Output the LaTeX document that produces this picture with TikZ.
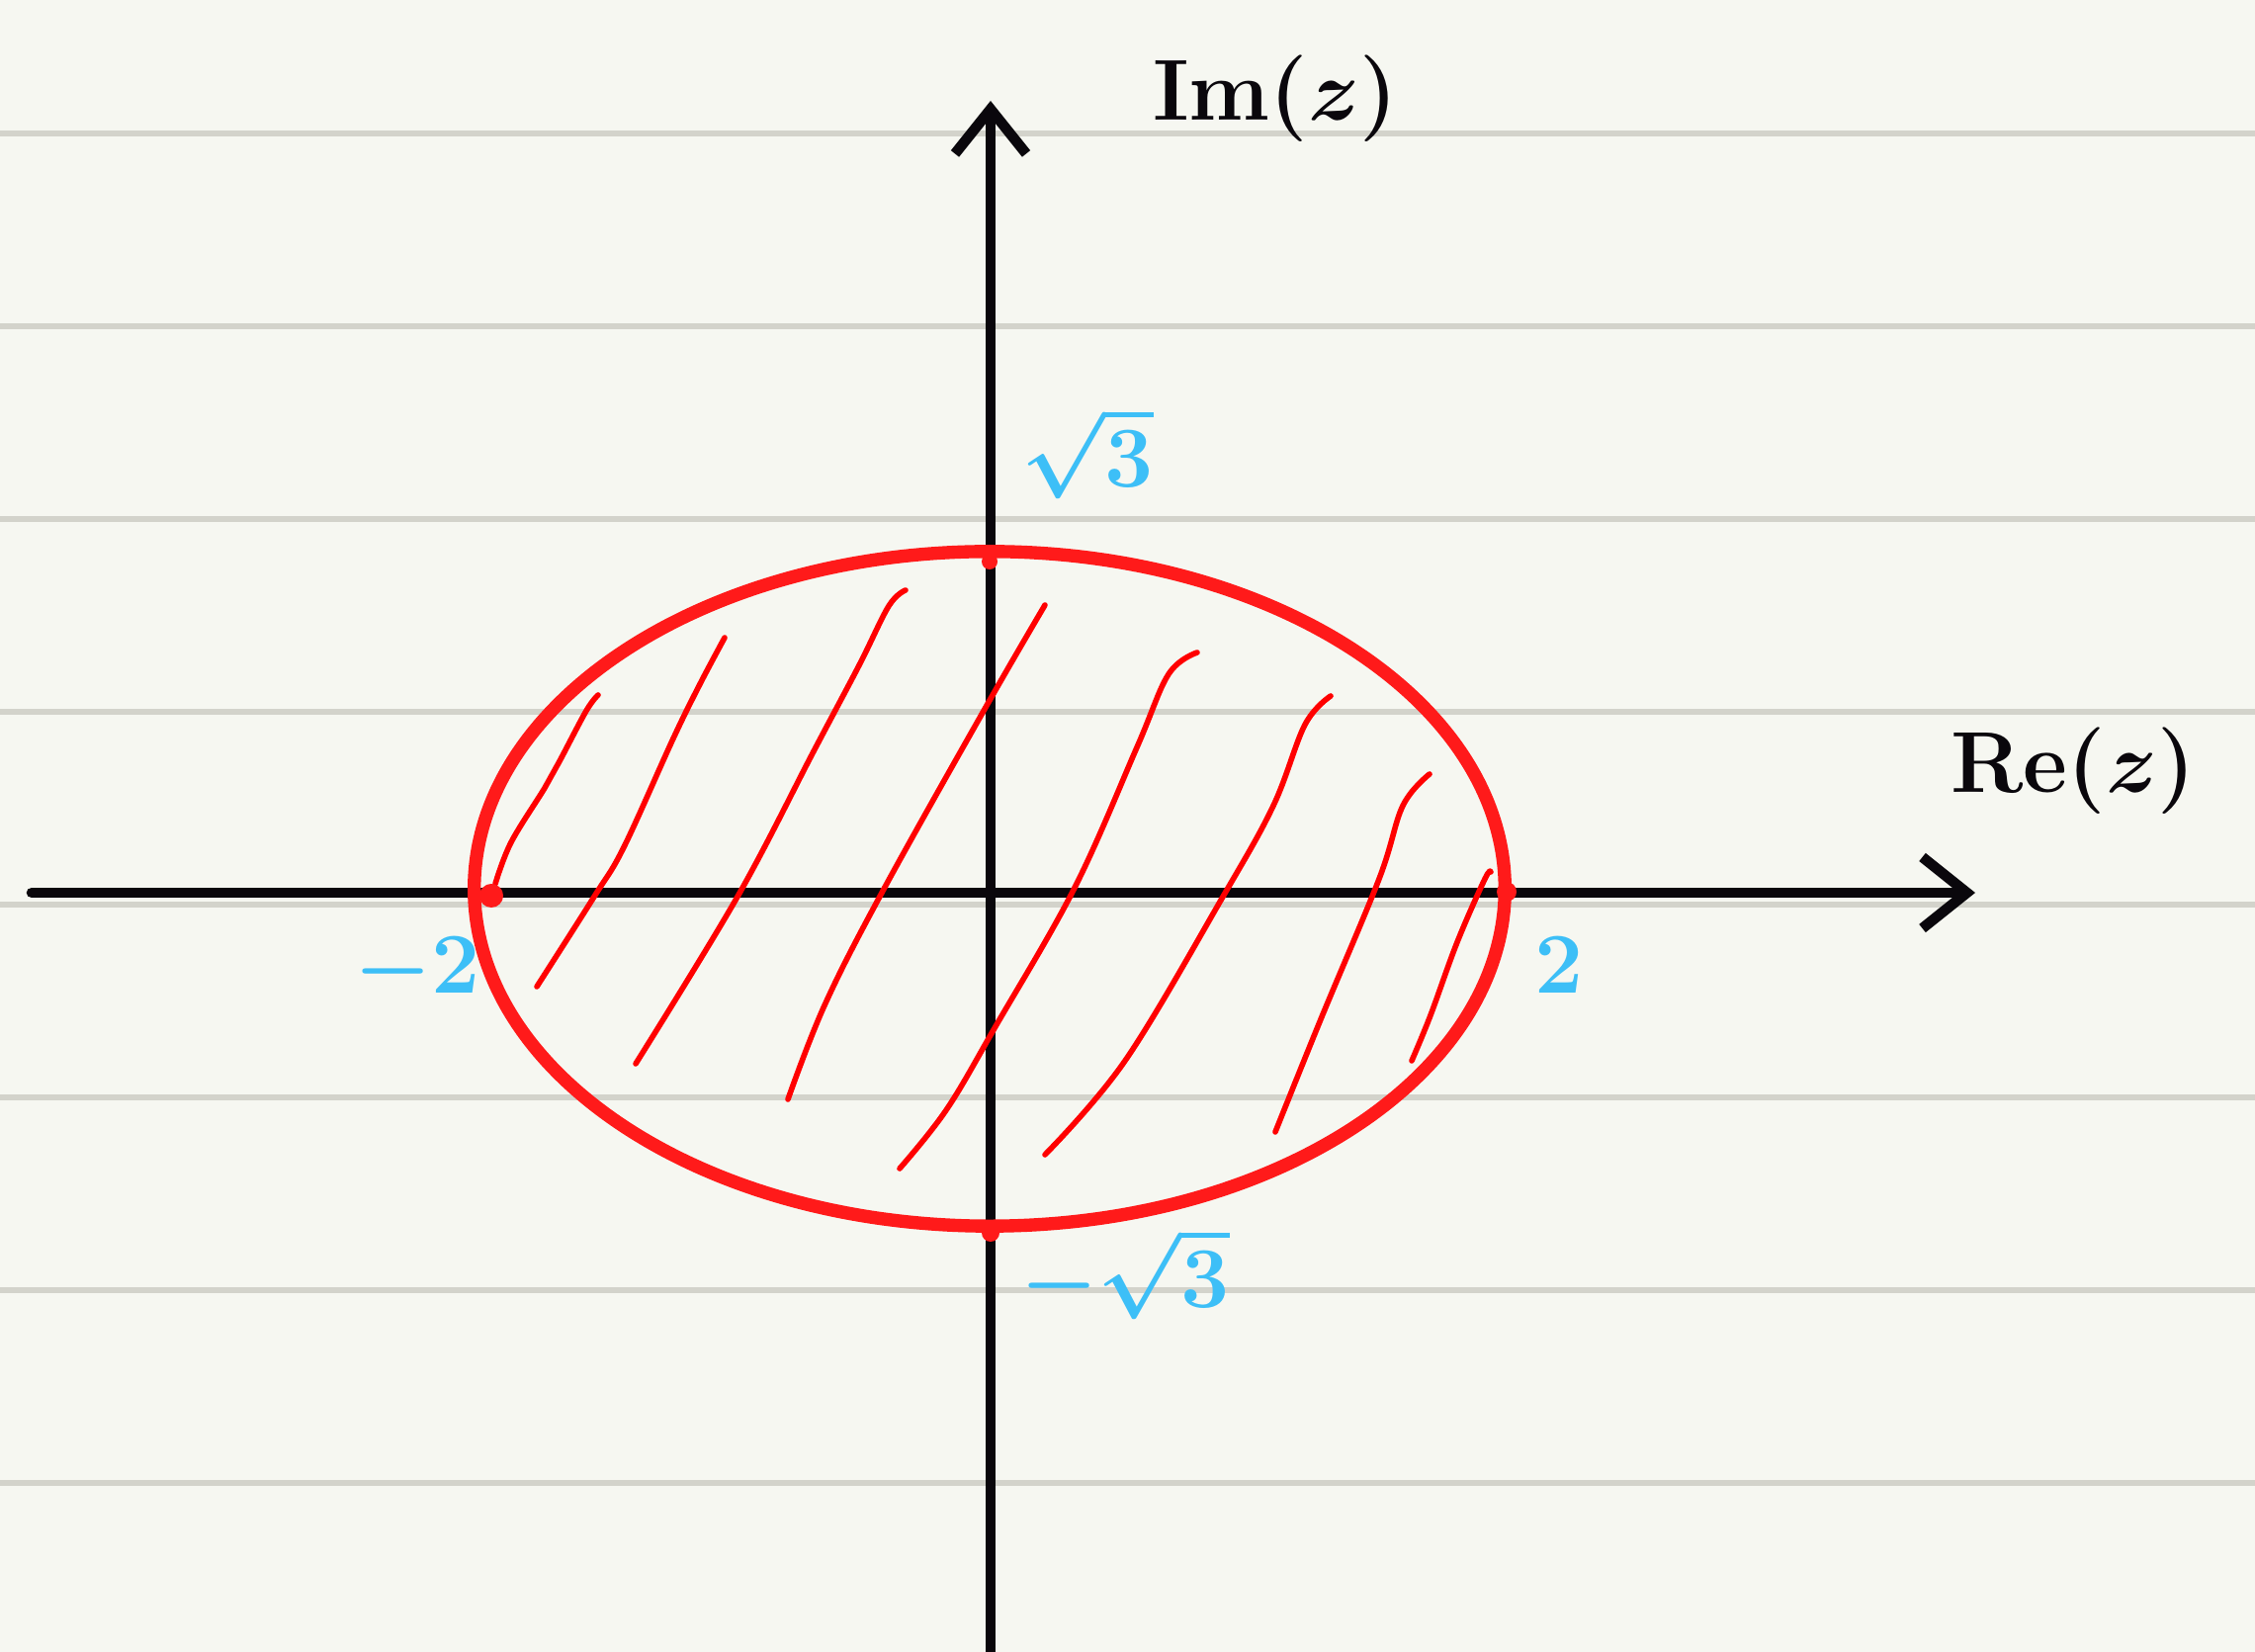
\documentclass[tikz,border=0pt]{standalone}
\usetikzlibrary{arrows.meta}
\definecolor{paper}{HTML}{F6F7F1}
\definecolor{ruled}{HTML}{D3D3CB}
\definecolor{ink}{HTML}{0A070C}
\definecolor{redink}{HTML}{FF1A1A}
\definecolor{hatchred}{HTML}{FF0000}
\definecolor{blueink}{HTML}{3DBFF7}
\begin{document}
\begin{tikzpicture}[x=0.01cm,y=-0.01cm,line cap=round,line join=round,
  ruleline/.style={ruled,line width=1.5pt},
  axisline/.style={ink,line width=3pt,-{Straight Barb[length=0.45cm,width=0.72cm]}},
  boundary/.style={redink,line width=3.8pt},
  hatchline/.style={hatchred,line width=1.6pt},
  blob/.style={fill=redink},
  axislabel/.style={ink,font=\fontsize{56}{64}\selectfont\boldmath,inner sep=0pt},
  valuelabel/.style={blueink,font=\fontsize{36}{42}\selectfont\boldmath,inner sep=0pt}]
% paper
\fill[paper] (0,0) rectangle (2281,1671);
\useasboundingbox (0,0) rectangle (2281,1671);
\foreach \k in {0,...,7}{
  \draw[ruleline] (0,135+195*\k) -- (2281,135+195*\k);
}
% axes
\coordinate (xstart) at (32,903);
\coordinate (xend) at (1998,903);
\coordinate (ystart) at (1002,1680);
\coordinate (yend) at (1002,102);
\draw[axisline] (xstart) -- (xend);
\draw[axisline] (ystart) -- (yend);
\node[axislabel] (imlabel) at (1290,100) {$\mathbf{Im}(z)$};
\node[axislabel] (relabel) at (2097,780) {$\mathbf{Re}(z)$};
% region boundary
\draw[boundary] (1001,899) ellipse [x radius=5.21cm,y radius=3.41cm];
% hatching
\draw[hatchline] plot[smooth,tension=0.6] coordinates {(501,894) (517,852) (551,797) (566,770) (593,719) (605,703)};
\draw[hatchline] plot[smooth,tension=0.6] coordinates {(543,998) (601,907) (631,857) (681,747) (708,692) (733,645)};
\draw[hatchline] plot[smooth,tension=0.6] coordinates {(643,1076) (746,907) (823,760) (869,673) (899,613) (916,597)};
\draw[hatchline] plot[smooth,tension=0.6] coordinates {(797,1112) (834,1017) (892,903) (995,719) (1057,612)};
\draw[hatchline] plot[smooth,tension=0.6] coordinates {(910,1182) (957,1123) (1006,1040) (1087,898) (1150,756) (1182,682) (1211,660)};
\draw[hatchline] plot[smooth,tension=0.6] coordinates {(1057,1168) (1138,1073) (1237,907) (1288,815) (1320,733) (1346,704)};
\draw[hatchline] plot[smooth,tension=0.6] coordinates {(1290,1145) (1336,1031) (1395,889) (1419,815) (1446,783)};
\draw[hatchline] plot[smooth,tension=0.6] coordinates {(1428,1073) (1447,1027) (1474,953) (1502,889) (1508,882)};
% marked points
\fill[blob] (497,906) circle[radius=0.12cm];
\fill[blob] (1524,902) circle[radius=0.1cm];
\fill[blob] (1001,568) circle[radius=0.08cm];
\fill[blob] (1002,1247) circle[radius=0.09cm];
% values
\node[valuelabel] (sqrtthree) at (1100,458) {$\sqrt{3}$};
\node[valuelabel] (msqrtthree) at (1138,1288) {$-\sqrt{3}$};
\node[valuelabel] (mtwo) at (422,982) {$-2$};
\node[valuelabel,font=\fontsize{42}{48}\selectfont\boldmath] (two) at (1577,976) {$2$};
\end{tikzpicture}
\end{document}
